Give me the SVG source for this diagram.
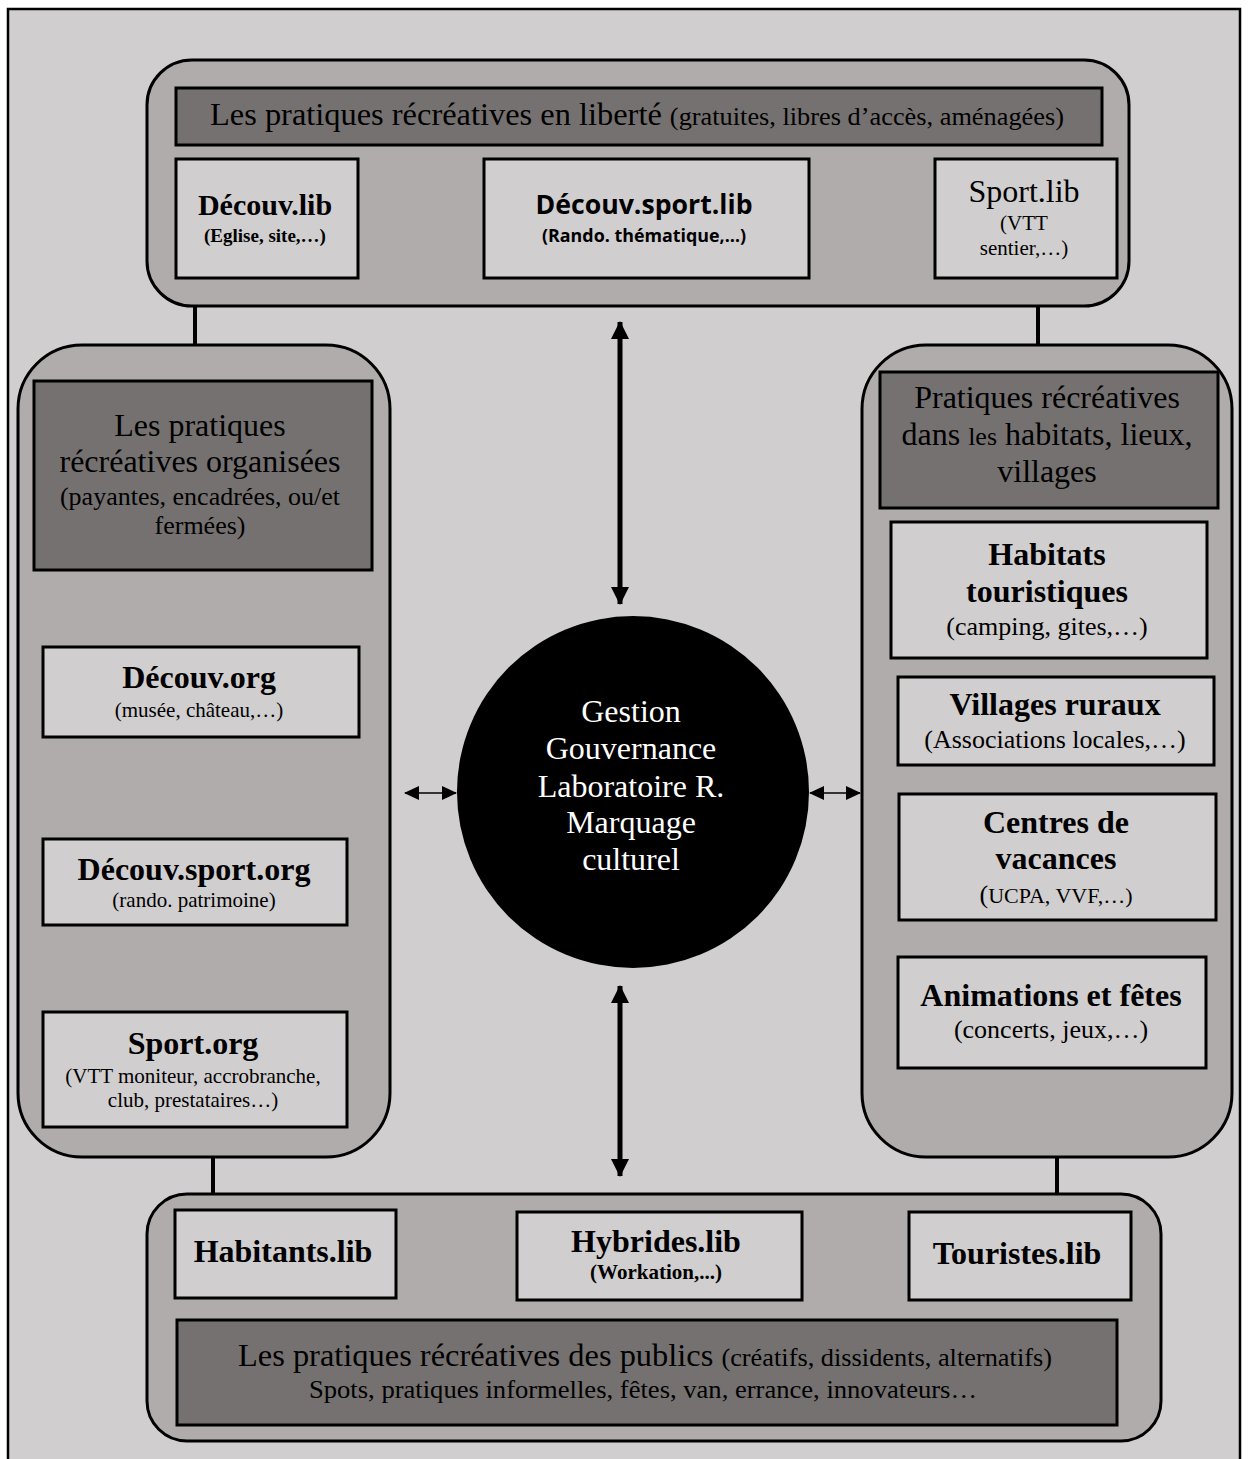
<svg xmlns="http://www.w3.org/2000/svg" width="1248" height="1459" viewBox="0 0 1248 1459">
<defs>
<style>
.cont{fill:#b0acab;stroke:#000;stroke-width:3}
.bar{fill:#757170;stroke:#000;stroke-width:3}
.box{fill:#d0cecf;stroke:#000;stroke-width:3}
.t{font-family:"Liberation Serif","Times New Roman",serif;fill:#000;text-anchor:middle}
.b{font-weight:bold}
.s{font-family:"Open Sans","Liberation Sans",sans-serif;font-weight:bold;fill:#000;text-anchor:middle}
.w{font-family:"Liberation Serif","Times New Roman",serif;fill:#fff;text-anchor:middle;font-size:32px}
.thick{stroke:#000;stroke-width:5;fill:none;marker-start:url(#hs);marker-end:url(#he)}
.thin{stroke:#000;stroke-width:1.6;fill:none;marker-start:url(#ts);marker-end:url(#te)}
.link{stroke:#000;stroke-width:4;fill:none}
</style>
<marker id="he" markerUnits="userSpaceOnUse" markerWidth="20" markerHeight="22" refX="17" refY="11" orient="auto"><path d="M0,2 L18,11 L0,20 Z" fill="#000"/></marker>
<marker id="hs" markerUnits="userSpaceOnUse" markerWidth="20" markerHeight="22" refX="3" refY="11" orient="auto"><path d="M20,2 L2,11 L20,20 Z" fill="#000"/></marker>
<marker id="te" markerUnits="userSpaceOnUse" markerWidth="16" markerHeight="16" refX="14" refY="8" orient="auto"><path d="M0,1 L15,8 L0,15 Z" fill="#000"/></marker>
<marker id="ts" markerUnits="userSpaceOnUse" markerWidth="16" markerHeight="16" refX="2" refY="8" orient="auto"><path d="M16,1 L1,8 L16,15 Z" fill="#000"/></marker>
</defs>
<rect x="0" y="0" width="1248" height="1459" fill="#fff"/>
<rect x="8" y="9" width="1232" height="1470" fill="#d0cecf" stroke="#000" stroke-width="2.5"/>

<g id="connectors">
<path class="link" d="M195,306 V347"/>
<path class="link" d="M1038,306 V347"/>
<path class="link" d="M213,1156 V1196"/>
<path class="link" d="M1057,1156 V1196"/>
<path class="thick" d="M372,227 H469"/>
<path class="thick" d="M826,229 H923"/>
<path class="thick" d="M620,322 V604"/>
<path class="thick" d="M620,986 V1176"/>
<path class="thin" d="M405,793 H456"/>
<path class="thin" d="M810,793 H860"/>
<path class="thick" d="M194,740 V838"/>
<path class="thick" d="M194,935 V1010"/>
<path class="thick" d="M404,1259 H501"/>
<path class="thick" d="M803,1260 H900"/>
</g>

<g id="top-group">
<rect class="cont" x="147" y="60" width="982" height="246" rx="45"/>
<rect class="bar" x="176" y="88" width="926" height="57"/>
<text class="t" y="125" x="637" font-size="32" textLength="854" lengthAdjust="spacingAndGlyphs"><tspan>Les pratiques récréatives en liberté </tspan><tspan font-size="26">(gratuites, libres d’accès, aménagées)</tspan></text>
</g>
<g id="decouv-lib">
<rect class="box" x="176" y="159" width="182" height="119"/>
<text class="t b" x="265" y="215" font-size="30">Découv.lib</text>
<text class="t b" x="265" y="242" font-size="19">(Eglise, site,…)</text>
</g>
<g id="decouv-sport-lib">
<rect class="box" x="484" y="159" width="325" height="119"/>
<text class="s" x="644" y="214" font-size="26" textLength="217" lengthAdjust="spacingAndGlyphs">Découv.sport.lib</text>
<text class="s" x="644" y="242" font-size="17" textLength="204" lengthAdjust="spacingAndGlyphs">(Rando. thématique,…)</text>
</g>
<g id="sport-lib">
<rect class="box" x="935" y="159" width="182" height="119"/>
<text class="t" x="1024" y="202" font-size="32">Sport.lib</text>
<text class="t" x="1024" y="230" font-size="21">(VTT</text>
<text class="t" x="1024" y="255" font-size="21">sentier,…)</text>
</g>

<g id="left-group">
<rect class="cont" x="18" y="345" width="372" height="812" rx="64"/>
<rect class="bar" x="34" y="381" width="338" height="189"/>
<text class="t" x="200" y="436" font-size="32">Les pratiques</text>
<text class="t" x="200" y="472" font-size="32">récréatives organisées</text>
<text class="t" x="200" y="505" font-size="26">(payantes, encadrées, ou/et</text>
<text class="t" x="200" y="534" font-size="26">fermées)</text>
</g>
<g id="decouv-org">
<rect class="box" x="43" y="647" width="316" height="90"/>
<text class="t b" x="199" y="688" font-size="32">Découv.org</text>
<text class="t" x="199" y="717" font-size="21">(musée, château,…)</text>
</g>
<g id="decouv-sport-org">
<rect class="box" x="43" y="839" width="304" height="86"/>
<text class="t b" x="194" y="880" font-size="32">Découv.sport.org</text>
<text class="t" x="194" y="907" font-size="21">(rando. patrimoine)</text>
</g>
<g id="sport-org">
<rect class="box" x="43" y="1012" width="304" height="115"/>
<text class="t b" x="193" y="1054" font-size="32">Sport.org</text>
<text class="t" x="193" y="1083" font-size="21">(VTT moniteur, accrobranche,</text>
<text class="t" x="193" y="1107" font-size="21">club, prestataires…)</text>
</g>

<g id="right-group">
<rect class="cont" x="862" y="345" width="370" height="812" rx="64"/>
<rect class="bar" x="880" y="372" width="338" height="136"/>
<text class="t" x="1047" y="408" font-size="32">Pratiques récréatives</text>
<text class="t" x="1047" y="445" font-size="32">dans <tspan font-size="26">les</tspan> habitats, lieux,</text>
<text class="t" x="1047" y="482" font-size="32">villages</text>
</g>
<g id="habitats">
<rect class="box" x="891" y="522" width="316" height="136"/>
<text class="t b" x="1047" y="565" font-size="32">Habitats</text>
<text class="t b" x="1047" y="602" font-size="32">touristiques</text>
<text class="t" x="1047" y="635" font-size="26">(camping, gites,…)</text>
</g>
<g id="villages">
<rect class="box" x="898" y="677" width="316" height="88"/>
<text class="t b" x="1055" y="715" font-size="32">Villages ruraux</text>
<text class="t" x="1055" y="748" font-size="26">(Associations locales,…)</text>
</g>
<g id="centres">
<rect class="box" x="899" y="794" width="317" height="126"/>
<text class="t b" x="1056" y="833" font-size="32">Centres de</text>
<text class="t b" x="1056" y="869" font-size="32">vacances</text>
<text class="t" x="1056" y="903" font-size="22"><tspan font-size="26">(</tspan>UCPA, VVF,…)</text>
</g>
<g id="animations">
<rect class="box" x="898" y="957" width="308" height="111"/>
<text class="t b" x="1051" y="1006" font-size="32">Animations et fêtes</text>
<text class="t" x="1051" y="1038" font-size="26">(concerts, jeux,…)</text>
</g>

<g id="center">
<circle cx="633" cy="792" r="176" fill="#000"/>
<text class="w" x="631" y="722">Gestion</text>
<text class="w" x="631" y="759">Gouvernance</text>
<text class="w" x="631" y="797">Laboratoire R.</text>
<text class="w" x="631" y="833">Marquage</text>
<text class="w" x="631" y="870">culturel</text>
</g>

<g id="bottom-group">
<rect class="cont" x="147" y="1194" width="1014" height="247" rx="40"/>
<rect class="bar" x="177" y="1320" width="940" height="105"/>
<text class="t" x="645" y="1366" font-size="32" textLength="814" lengthAdjust="spacingAndGlyphs"><tspan>Les pratiques récréatives des publics </tspan><tspan font-size="26">(créatifs, dissidents, alternatifs)</tspan></text>
<text class="t" x="643" y="1398" font-size="26" textLength="668" lengthAdjust="spacingAndGlyphs">Spots, pratiques informelles, fêtes, van, errance, innovateurs…</text>
</g>
<g id="habitants-lib">
<rect class="box" x="175" y="1210" width="221" height="88"/>
<text class="t b" x="283" y="1262" font-size="32">Habitants.lib</text>
</g>
<g id="hybrides-lib">
<rect class="box" x="517" y="1212" width="285" height="88"/>
<text class="t b" x="656" y="1252" font-size="32">Hybrides.lib</text>
<text class="t b" x="656" y="1279" font-size="21">(Workation,...)</text>
</g>
<g id="touristes-lib">
<rect class="box" x="909" y="1212" width="222" height="88"/>
<text class="t b" x="1017" y="1264" font-size="32">Touristes.lib</text>
</g>
</svg>
